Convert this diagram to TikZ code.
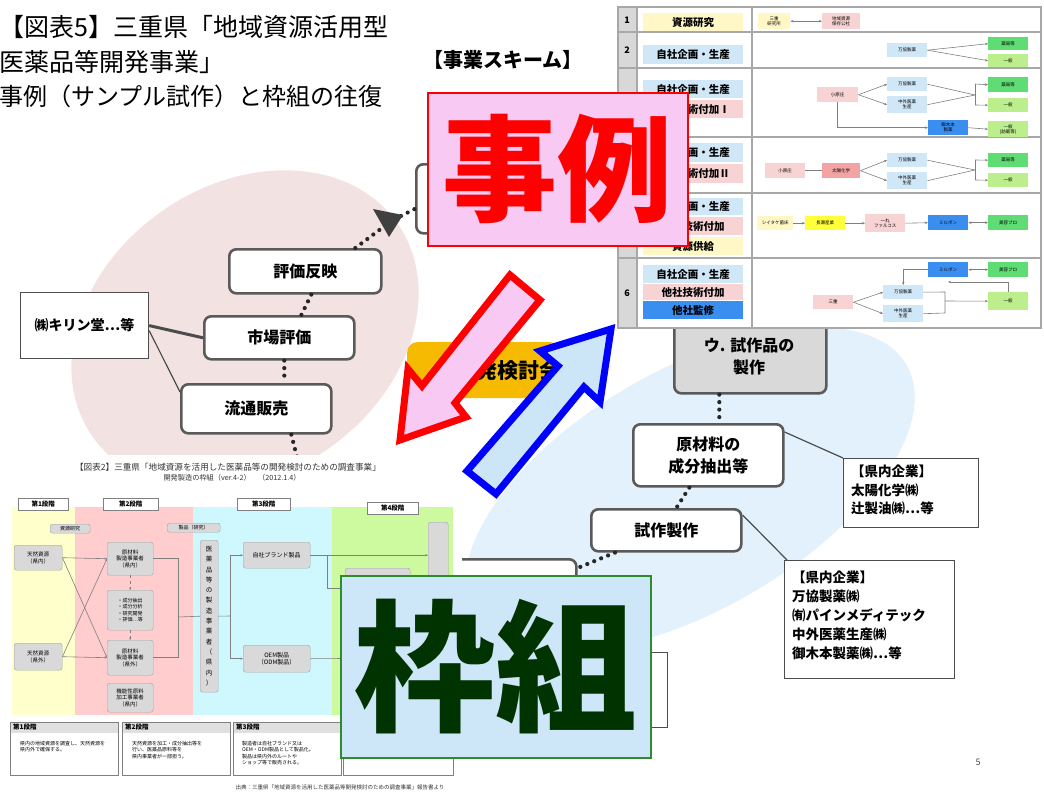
\documentclass[tikz,border=0pt]{standalone}
\usepackage{fontspec}
\newfontfamily\jp{Noto Sans CJK JP}
\usetikzlibrary{arrows.meta}
\definecolor{pinkell}{HTML}{F3E2E2}
\definecolor{blueell}{HTML}{E2F1FC}
\definecolor{boxgray}{HTML}{5A5A5A}
\definecolor{jpink}{HTML}{F8C9F2}
\definecolor{wfill}{HTML}{CDE7F9}
\definecolor{wtext}{HTML}{003300}
\definecolor{wborder}{HTML}{2E8B2E}
\definecolor{orng}{HTML}{F6BA00}
\definecolor{bfill}{HTML}{CCE6F8}
\definecolor{tgray}{HTML}{A8A8A8}
\definecolor{numgray}{HTML}{D8D8D8}
\definecolor{tblue}{HTML}{CFE7F7}
\definecolor{tpink}{HTML}{F8D3D3}
\definecolor{tyellow}{HTML}{FFF8C6}
\definecolor{tsblue}{HTML}{3A8EF0}
\definecolor{tgreen}{HTML}{5FDC73}
\definecolor{tlgreen}{HTML}{BDEE8E}
\definecolor{tpinkd}{HTML}{F3A3A3}
\definecolor{tyel}{HTML}{FFFF3A}
\definecolor{cyel}{HTML}{FFFFCC}
\definecolor{cpink}{HTML}{FFCDCD}
\definecolor{ccyan}{HTML}{CFF8FE}
\definecolor{cgreen}{HTML}{CDFA9E}
\definecolor{cgray}{HTML}{D9D9D9}
\begin{document}
\begin{tikzpicture}[x=1pt,y=-1pt,
  box/.style={draw=boxgray, line width=2.6pt, rounded corners=7pt, fill=white, inner sep=0pt, anchor=north west, align=center, font=\jp\bfseries\fontsize{16}{22}\selectfont},
  plainbox/.style={draw=black!70, line width=1.2pt, fill=white, inner sep=0pt, anchor=north west},
  dots/.style={draw=black!85, line width=4.2pt, dash pattern=on 0pt off 7.5pt, line cap=round},
  conn/.style={draw=black!70, line width=1.2pt},
  lab/.style={inner sep=0pt, anchor=north west, minimum width=100pt, font=\jp\bfseries\fontsize{10.5}{11}\selectfont},
  tb/.style={inner sep=0pt, anchor=north west, minimum width=40pt, font=\jp\fontsize{4.5}{5}\selectfont, align=center},
  tl/.style={draw=gray, line width=0.6pt, -{Stealth[length=3pt,width=2.5pt]}},
  tln/.style={draw=gray, line width=0.6pt},
  cbox/.style={fill=cgray, draw=cgray!75!black, line width=0.4pt, rounded corners=2.5pt, inner sep=0pt, anchor=north west, align=center, font=\jp\fontsize{5.5}{6.5}\selectfont},
  hdr/.style={fill=white, draw=gray, line width=0.5pt, inner sep=0pt, anchor=north west, font=\jp\bfseries\fontsize{6.5}{7}\selectfont},
  cl/.style={draw=gray, line width=0.6pt},
  cla/.style={draw=gray, line width=0.6pt, -{Stealth[length=2.5pt,width=2pt]}},
  dbox/.style={fill=white, draw=gray, line width=0.6pt, inner sep=0pt, anchor=north west},
  dtxt/.style={inner sep=0pt, anchor=north west, align=left, font=\jp\fontsize{5}{6.5}\selectfont}
]
\useasboundingbox (0,0) rectangle (1044,792);
\fill[white] (0,0) rectangle (1044,792);

% ellipses
\fill[pinkell, rotate around={35:(245,330)}] (245,330) ellipse [x radius=186, y radius=145];
\fill[blueell, rotate around={30:(690,490)}] (690,490) ellipse [x radius=250, y radius=120];

% title
\node[anchor=base west, inner sep=0pt, font=\jp\fontsize{25}{30}\selectfont] (title1) at (-1,37) {【図表5】三重県「地域資源活用型};
\node[anchor=base west, inner sep=0pt, font=\jp\fontsize{25}{30}\selectfont] (title2) at (-1,71) {医薬品等開発事業」};
\node[anchor=base west, inner sep=0pt, font=\jp\fontsize{24}{30}\selectfont] (title3) at (-1,105) {事例（サンプル試作）と枠組の往復};
\node[inner sep=0pt, font=\jp\bfseries\fontsize{20}{22}\selectfont] (scheme) at (503,60) {【事業スキーム】};

% left nodes
\node[box, minimum width=152pt, minimum height=44pt] (hyoka) at (228,248) {評価反映};
\node[box, minimum width=150pt, minimum height=43pt] (shijo) at (203,315) {市場評価};
\node[box, minimum width=150pt, minimum height=49pt] (ryutsu) at (180,383) {流通販売};
\node[plainbox, minimum width=128pt, minimum height=66pt, font=\jp\bfseries\fontsize{14}{16}\selectfont] (kirin) at (20,292) {㈱キリン堂…等};
\node[box, minimum width=110pt, minimum height=69pt] (hidtop) at (415,163) {};

\draw[conn, line width=3pt] (kirin.east) -- (shijo.west);
\draw[conn] ([yshift=-5pt]kirin.east) -- ([yshift=-9pt]ryutsu.north west);
\draw[dots] ([xshift=6pt]hyoka.south) -- ([xshift=22pt]shijo.north);
\draw[dots] ([xshift=5pt]shijo.south) -- ([xshift=28pt]ryutsu.north);
\coordinate (rdown) at (297,457);
\draw[dots] ([xshift=35pt]ryutsu.south) -- (rdown);
\coordinate (abase) at (386,225);
\draw[dots] ([xshift=50pt]hyoka.north) -- (abase);
\draw[dots] (401,216) -- ([yshift=-10pt]hidtop.west);
\fill[black!75] (373,209) -- (403,215) -- (389,237) -- cycle;

% right nodes
\node[box, fill=cgray, minimum width=152pt, minimum height=92pt] (usaku) at (673,300) {};
\node[inner sep=0pt, align=center, font=\jp\bfseries\fontsize{16}{22}\selectfont] (usakut) at (749,356) {ウ. 試作品の\\製作};
\node[box, minimum width=150pt, minimum height=62pt] (genzai) at (632,423) {原材料の\\成分抽出等};
\node[box, minimum width=150pt, minimum height=42pt] (shisaku) at (590,508) {試作製作};
\node[box, minimum width=175pt, minimum height=120pt] (hidbot) at (400,558) {};
\node[plainbox, minimum width=135pt, minimum height=69pt] (ken1) at (843,458) {};
\node[anchor=north west, inner sep=0pt, align=left, font=\jp\bfseries\fontsize{13.5}{18.5}\selectfont] (ken1t) at (851,465) {【県内企業】\\太陽化学㈱\\辻製油㈱…等};
\node[plainbox, minimum width=170pt, minimum height=118pt] (ken2) at (784,560) {};
\node[anchor=north west, inner sep=0pt, align=left, font=\jp\bfseries\fontsize{13.5}{19}\selectfont] (ken2t) at (792,571) {【県内企業】\\万協製薬㈱\\㈲パインメディテック\\中外医薬生産㈱\\御木本製薬㈱…等};
\node[plainbox, minimum width=67pt, minimum height=75pt] (smallr) at (600,652) {};

\draw[dots] ([xshift=-31pt]usaku.south) -- ([xshift=11pt]genzai.north);
\draw[dots] ([xshift=-19pt]genzai.south) -- ([xshift=10pt]shisaku.north);
\draw[dots] ([xshift=25pt]shisaku.south west) -- ([yshift=-10pt]hidbot.north east);
\draw[conn] ([yshift=-9pt]genzai.north east) -- (ken1.north west);
\draw[conn] ([yshift=-7pt]shisaku.north east) -- ([xshift=3pt]ken2.north west);

% table
\draw[fill=white, draw=tgray, line width=1pt] (618,7) rectangle (1041,328);
\fill[numgray] (618,7) rectangle (637,328);
\foreach \yy in {32,68,137,193,258} \draw[tgray, line width=1.3pt] (618,\yy) -- (1041,\yy);
\draw[tgray, line width=1.3pt] (637,7) -- (637,328);
\draw[tgray, line width=1.3pt] (752,7) -- (752,328);
\draw[tgray, line width=1.3pt] (618,7) rectangle (1041,328);
\node[font=\jp\bfseries\fontsize{9}{10}\selectfont, inner sep=0pt] (n1) at (627,20) {1};
\node[font=\jp\bfseries\fontsize{9}{10}\selectfont, inner sep=0pt] (n2) at (627,50) {2};
\node[font=\jp\bfseries\fontsize{9}{10}\selectfont, inner sep=0pt] (n6) at (627,293) {6};

\node[lab, fill=tyellow, minimum height=18pt] (l1) at (643,13) {資源研究};
\node[lab, fill=tblue, minimum height=19pt] (l2) at (643,45) {自社企画・生産};
\node[lab, fill=tblue, minimum height=18pt] (l3a) at (643,80) {自社企画・生産};
\node[lab, fill=tpink, minimum height=18pt] (l3b) at (643,100) {他社技術付加Ⅰ};
\node[lab, fill=tblue, minimum height=19pt] (l4a) at (643,143) {自社企画・生産};
\node[lab, fill=tpink, minimum height=19pt] (l4b) at (643,164) {他社技術付加Ⅱ};
\node[lab, fill=tblue, minimum height=17pt] (l5a) at (643,198) {自社企画・生産};
\node[lab, fill=tpink, minimum height=18pt] (l5b) at (643,217) {他社技術付加};
\node[lab, fill=tyellow, minimum height=18pt] (l5c) at (643,237) {資源供給};
\node[lab, fill=tblue, minimum height=18pt] (l6a) at (643,265) {自社企画・生産};
\node[lab, fill=tpink, minimum height=16pt] (l6b) at (643,284) {他社技術付加};
\node[lab, fill=tsblue, minimum height=18pt] (l6c) at (643,301) {他社監修};

% row 1
\node[tb, fill=tyellow, minimum width=32pt, minimum height=16pt] (t1a) at (758,13) {三重\\研究所};
\node[tb, fill=tpink, minimum width=38pt, minimum height=16pt] (t1b) at (822,13) {地域資源\\保存公社};
\draw[tln, {Stealth[length=3pt,width=2.5pt]}-{Stealth[length=3pt,width=2.5pt]}] (t1a.east) -- (t1b.west);
% row 2
\node[tb, fill=tblue, minimum height=14pt] (t2a) at (887,43) {万協製薬};
\node[tb, fill=tgreen, minimum height=13pt] (t2b) at (988,37) {薬局等};
\node[tb, fill=tlgreen, minimum height=13pt] (t2c) at (988,54) {一般};
\draw[tl] (t2a.east) -- (t2b.west);
\draw[tl] (t2a.east) -- (t2c.west);
% row 3
\node[tb, fill=tpink, minimum width=41pt, minimum height=15pt] (t3a) at (817,87) {小原庄};
\node[tb, fill=tblue, minimum height=14pt] (t3b) at (887,77) {万協製薬};
\node[tb, fill=tblue, minimum height=17pt] (t3c) at (887,96) {中外医薬\\生産};
\node[tb, fill=tgreen, minimum height=15pt] (t3d) at (988,77) {薬局等};
\node[tb, fill=tlgreen, minimum height=14pt] (t3e) at (988,98) {一般};
\node[tb, fill=tsblue, minimum height=15pt] (t3f) at (928,120) {御木本\\製薬};
\node[tb, fill=tlgreen, minimum height=16pt] (t3g) at (988,121) {一般\\(訪販等)};
\draw[tl] (t3a.east) -- (t3b.west);
\draw[tl] (t3a.east) -- (t3c.west);
\coordinate (j3) at (975,95);
\draw[tln] (t3b.east) -- (j3);
\draw[tln] (t3c.east) -- (j3);
\draw[tln] (975,84) -- (975,105);
\draw[tl] (975,84) -- (t3d.west);
\draw[tl] (975,105) -- (t3e.west);
\draw[tl] (t3a.south) |- (t3f.west);
\draw[tl] (t3f.east) -- (t3g.west);
% row 4
\node[tb, fill=tpink, minimum height=15pt] (t4a) at (765,163) {小原庄};
\node[tb, fill=tpinkd, minimum width=38pt, minimum height=15pt] (t4b) at (822,163) {太陽化学};
\node[tb, fill=tblue, minimum height=14pt] (t4c) at (887,153) {万協製薬};
\node[tb, fill=tblue, minimum height=17pt] (t4d) at (887,172) {中外医薬\\生産};
\node[tb, fill=tgreen, minimum height=14pt] (t4e) at (988,153) {薬局等};
\node[tb, fill=tlgreen, minimum height=14pt] (t4f) at (988,173) {一般};
\draw[tln] (t4a.east) -- (t4b.west);
\draw[tl] (t4b.east) -- (t4c.west);
\draw[tl] (t4b.east) -- (t4d.west);
\coordinate (j4) at (975,170);
\draw[tln] (t4c.east) -- (j4);
\draw[tln] (t4d.east) -- (j4);
\draw[tln] (975,160) -- (975,180);
\draw[tl] (975,160) -- (t4e.west);
\draw[tl] (975,180) -- (t4f.west);
% row 5
\node[tb, fill=tyellow, minimum width=36pt, minimum height=14pt] (t5a) at (757,216) {シイタケ菌床};
\node[tb, fill=tyel, minimum height=14pt] (t5b) at (805,216) {長瀬産業};
\node[tb, fill=tpink, minimum height=18pt] (t5c) at (865,214) {一丸\\ファルコス};
\node[tb, fill=tsblue, minimum height=15pt] (t5d) at (928,215) {ミルボン};
\node[tb, fill=tgreen, minimum height=15pt] (t5e) at (988,215) {美容プロ};
\draw[tl] (t5a.east) -- (t5b.west);
\draw[tl] (t5b.east) -- (t5c.west);
\draw[tl] (t5c.east) -- (t5d.west);
\draw[tln, {Stealth[length=3pt,width=2.5pt]}-{Stealth[length=3pt,width=2.5pt]}] (t5d.east) -- (t5e.west);
% row 6
\node[tb, fill=tsblue, minimum height=15pt] (t6a) at (928,262) {ミルボン};
\node[tb, fill=tgreen, minimum height=15pt] (t6b) at (988,262) {美容プロ};
\node[tb, fill=tpink, minimum height=14pt] (t6c) at (813,295) {三重};
\node[tb, fill=tblue, minimum height=14pt] (t6d) at (883,285) {万協製薬};
\node[tb, fill=tblue, minimum height=17pt] (t6e) at (883,305) {中外医薬\\生産};
\node[tb, fill=tlgreen, minimum height=18pt] (t6f) at (988,292) {一般};
\draw[tln, {Stealth[length=3pt,width=2.5pt]}-{Stealth[length=3pt,width=2.5pt]}] (t6a.east) -- (t6b.west);
\draw[tl] (t6c.east) -- (t6d.west);
\draw[tl] (t6c.east) -- (t6e.west);
\draw[tln] (t6d.east) -- (945,292) -- (945,313) -- (t6e.east);
\draw[tl] (945,301) -- (t6f.west);
\draw[tl] (t6a.west) -| (t6d.north);
\draw[tl] (t6f.north) |- (948,282);

% orange box
\node[fill=orng, rounded corners=10pt, minimum width=153pt, minimum height=56pt, inner sep=0pt, anchor=north west] (kaihatsu) at (407,342) {};
\node[inner sep=0pt, font=\jp\bfseries\fontsize{21}{22}\selectfont] (kaihatsut) at (508,371) {開発検討会};

% bottom-left chart
\fill[white] (0,455) rectangle (462,792);
\node[inner sep=0pt, font=\jp\fontsize{8.6}{9}\selectfont, text=black!80] (cap1) at (228,467) {【図表2】三重県「地域資源を活用した医薬品等の開発検討のための調査事業」};
\node[inner sep=0pt, font=\jp\fontsize{7.2}{8}\selectfont, text=black!80] (cap2) at (232,478) {開発製造の枠組（ver.4-2）　（2012.1.4）};
\fill[cyel] (12,507) rectangle (75,715);
\fill[cpink] (75,507) rectangle (193,715);
\fill[ccyan] (193,507) rectangle (332,715);
\fill[cgreen] (332,507) rectangle (453,715);
\node[hdr, minimum width=50pt, minimum height=12pt] (h1) at (18,498) {第1段階};
\node[hdr, minimum width=55pt, minimum height=12pt] (h2) at (103,498) {第2段階};
\node[hdr, minimum width=53pt, minimum height=12pt] (h3) at (237,498) {第3段階};
\node[hdr, minimum width=51pt, minimum height=12pt] (h4) at (367,502) {第4段階};
\node[cbox, minimum width=40pt, minimum height=9pt, font=\jp\fontsize{5}{5.5}\selectfont] (s1) at (50,524) {資源研究};
\node[cbox, minimum width=53pt, minimum height=9pt, font=\jp\fontsize{5}{5.5}\selectfont] (s2) at (167,523) {製品（研究）};
\node[cbox, minimum width=48pt, minimum height=25pt] (c1) at (14,545) {天然資源\\（県内）};
\node[cbox, minimum width=48pt, minimum height=27pt] (c2) at (14,643) {天然資源\\（県外）};
\node[cbox, minimum width=46pt, minimum height=33pt] (c3) at (107,542) {原材料\\製造事業者\\（県内）};
\node[cbox, minimum width=46pt, minimum height=40pt, font=\jp\fontsize{5}{6.3}\selectfont] (c4) at (107,590) {・成分抽出\\・成分分析\\・研究開発\\・評価…等};
\node[cbox, minimum width=46pt, minimum height=35pt] (c5) at (107,640) {原材料\\製造事業者\\（県外）};
\node[cbox, minimum width=46pt, minimum height=29pt] (c6) at (107,683) {機能性原料\\加工事業者\\（県内）};
\node[cbox, minimum width=18pt, minimum height=152pt, font=\jp\fontsize{6.5}{10.3}\selectfont] (c7) at (200,540) {医\\薬\\品\\等\\の\\製\\造\\事\\業\\者\\（\\県\\内\\）};
\node[cbox, minimum width=67pt, minimum height=26pt, font=\jp\fontsize{6}{7}\selectfont] (c8) at (243,542) {自社ブランド製品};
\node[cbox, minimum width=67pt, minimum height=27pt, font=\jp\fontsize{6}{7}\selectfont] (c9) at (243,645) {OEM製品\\（ODM製品）};
\node[cbox, minimum width=20pt, minimum height=190pt] (c10) at (428,522) {};
\node[cbox, minimum width=65pt, minimum height=40pt] (c11) at (345,568) {};
\draw[cla] (c1.east) -- (c3.west);
\draw[cla] (c1.east) -- (c5.west);
\draw[cla] (c2.east) -- (c3.west);
\draw[cla] (c2.east) -- (c5.west);
\draw[cla, dashed] (c3.south) -- (c4.north);
\draw[cla, dashed] (c4.south) -- (c5.north);
\coordinate (cj1) at (178,617);
\draw[cl] (c3.east) -| (cj1);
\draw[cl] (c5.east) -| (cj1);
\draw[cl] (cj1) -- (c7.west);
\coordinate (cj2) at (230,616);
\draw[cl] (c7.east) -- (cj2);
\draw[cla] (cj2) |- (c8.west);
\draw[cla] (cj2) |- (c9.west);
\draw[cla] (c8.east) -- (c8.east -| c10.west);
\draw[cla] (327,555) |- (c11.west);
\draw[cl] (c9.east) -- (345,658.5);
\node[dbox, minimum width=108pt, minimum height=53pt] (d1) at (10,722) {};
\node[dbox, minimum width=108pt, minimum height=53pt] (d2) at (122,722) {};
\node[dbox, minimum width=108pt, minimum height=53pt] (d3) at (233,722) {};
\node[dbox, minimum width=110pt, minimum height=53pt] (d4) at (343,722) {};
\fill[black!12] (10.5,722.5) rectangle (117.5,733);
\fill[black!12] (122.5,722.5) rectangle (229.5,733);
\fill[black!12] (233.5,722.5) rectangle (340.5,733);
\fill[black!12] (343.5,722.5) rectangle (452.5,733);
\node[dtxt, font=\jp\bfseries\fontsize{6.5}{7}\selectfont] (d1h) at (13,724) {第1段階};
\node[dtxt, font=\jp\bfseries\fontsize{6.5}{7}\selectfont] (d2h) at (125,724) {第2段階};
\node[dtxt, font=\jp\bfseries\fontsize{6.5}{7}\selectfont] (d3h) at (236,724) {第3段階};
\node[dtxt] (d1t) at (20,741) {県内の地域資源を調査し、天然資源を\\県内外で確保する。};
\node[dtxt] (d2t) at (132,741) {天然資源を加工・成分抽出等を\\行い、医薬品原料等を\\県内事業者が一部担う。};
\node[dtxt] (d3t) at (242,741) {製造者は自社ブランド又は\\OEM・ODM製品として製品化。\\製品は県内外のルートや\\ショップ等で販売される。};
\node[inner sep=0pt, font=\jp\fontsize{5.5}{6}\selectfont, text=black!80] (foot) at (340,787) {出典：三重県「地域資源を活用した医薬品等開発検討のための調査事業」報告書より};
\node[inner sep=0pt, font=\jp\fontsize{9}{10}\selectfont, text=black!70] (pnum) at (978,762) {5};

% big boxes
\node[draw=red, line width=1.6pt, fill=jpink, minimum width=260pt, minimum height=153pt, inner sep=0pt, anchor=north west, font=\jp\bfseries\fontsize{115}{120}\selectfont, text=red] (jirei) at (427,92) {事例};
\draw[fill=jpink, draw=red, line width=7pt, line join=miter] (510,275) -- (540,300) -- (455,403) -- (466,417) -- (400,440) -- (408,369) -- (422,386) -- cycle;
\draw[fill=bfill, draw=blue, line width=7pt, line join=miter] (467,471) -- (496,494) -- (584,387) -- (600,402) -- (611,329) -- (540,351) -- (558,366) -- cycle;
\node[draw=wborder, line width=1.6pt, fill=wfill, minimum width=310pt, minimum height=182pt, inner sep=0pt, anchor=north west, font=\jp\bfseries\fontsize{142}{150}\selectfont, text=wtext] (waku) at (340,575) {枠組};
\end{tikzpicture}
\end{document}
